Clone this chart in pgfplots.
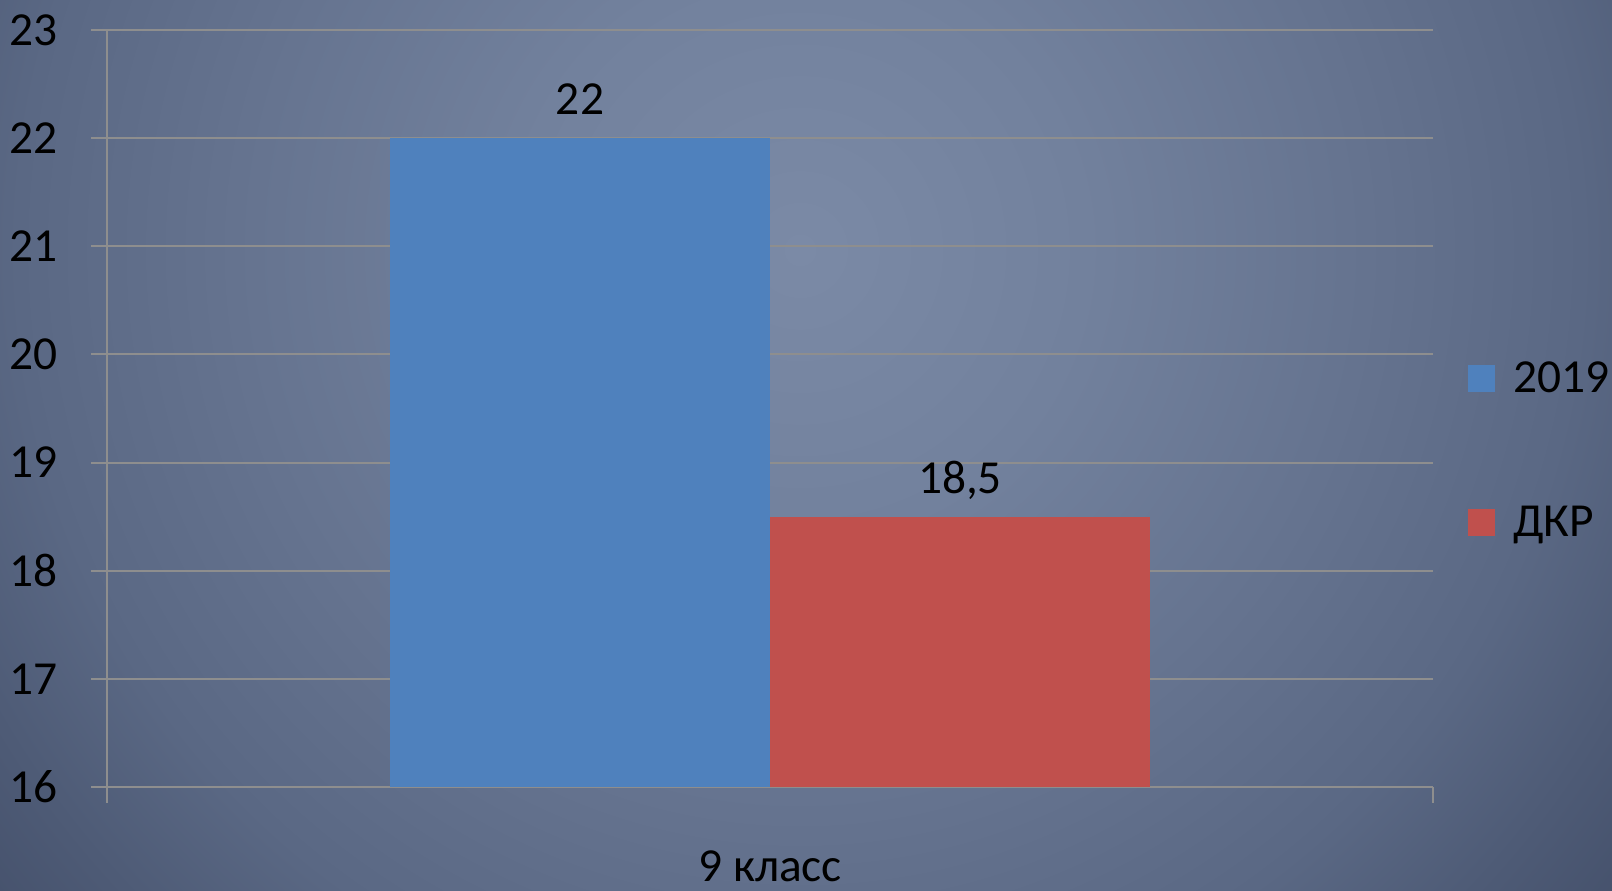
\documentclass[border=0pt]{standalone}
\usepackage{pgfplots}
\pgfplotsset{compat=1.18}
\usepackage{fontspec}
\setmainfont{Carlito}
\definecolor{bgc0}{HTML}{7B8AA6}
\definecolor{bgc1}{HTML}{72819D}
\definecolor{bgc2}{HTML}{65738F}
\definecolor{bgc3}{HTML}{5A6884}
\definecolor{bgc4}{HTML}{4E5B76}
\definecolor{bgc5}{HTML}{3C4761}
\definecolor{bgc6}{HTML}{3A455F}
\definecolor{barblue}{HTML}{4F81BD}
\definecolor{barred}{HTML}{C0504D}
\definecolor{gridc}{HTML}{8E8E8E}
\pgfdeclareradialshading{bgshade}{\pgfpoint{0bp}{0bp}}{color(0bp)=(bgc0); color(6.6bp)=(bgc1); color(13.1bp)=(bgc2); color(18.1bp)=(bgc3); color(21.5bp)=(bgc4); color(27.2bp)=(bgc5); color(28.3bp)=(bgc6); color(50bp)=(bgc6)}
\begin{document}
\begin{tikzpicture}[font=\fontsize{23.7}{28}\selectfont]
\begin{scope}
\clip (0,0) rectangle (806pt,445pt);
\shade[shading=bgshade] (400pt-540pt,320pt-540pt) rectangle (400pt+540pt,320pt+540pt);
\end{scope}
\useasboundingbox (0,0) rectangle (806pt,445pt);
\begin{axis}[
  at={(53.5pt,51.5pt)}, anchor=south west,
  scale only axis, width=663pt, height=378.5pt,
  ybar, bar width=190pt,
  ymin=16, ymax=23, ytick={16,17,...,23},
  xmin=-0.5, xmax=0.5, enlargelimits=false,
  xtick={-0.5,0.5}, xticklabels={,},
  extra x ticks={0}, extra x tick labels={9 класс},
  extra x tick style={major tick length=0pt, grid=none,
    xticklabel style={anchor=base, inner sep=0pt, yshift=-47pt}},
  axis x line*=bottom, axis y line*=left,
  axis line style={draw=gridc, line width=1pt, -},
  tick align=outside, major tick length=8pt,
  tick style={draw=gridc, line width=1pt},
  ymajorgrids, grid style={draw=gridc, line width=1pt},
  /pgf/number format/assume math mode=true,
  /pgf/number format/use comma,
  yticklabel style={anchor=east, inner sep=0pt, xshift=-16.5pt, text=black},
  nodes near coords,
  nodes near coords style={anchor=base, inner sep=0pt, yshift=11.75pt, text=black},
  legend style={at={(1.0264,0.440)}, anchor=west, draw=none, fill=none,
    inner sep=0pt, outer sep=0pt, row sep=51pt, column sep=9pt,
    nodes={inner sep=0pt, text height=16pt, text depth=5pt, anchor=base west}},
  legend cell align=left,
]
\addplot[fill=barblue, draw=none, bar shift=-95pt,
  legend image code/.code={\fill[barblue] (0pt,0.7pt) rectangle (13.5pt,14.2pt);}]
  coordinates {(0,22)};
\addplot[fill=barred, draw=none, bar shift=95pt,
  legend image code/.code={\fill[barred] (0pt,0.7pt) rectangle (13.5pt,14.2pt);}]
  coordinates {(0,18.5)};
\legend{2019, ДКР}
\end{axis}
\end{tikzpicture}
\end{document}
